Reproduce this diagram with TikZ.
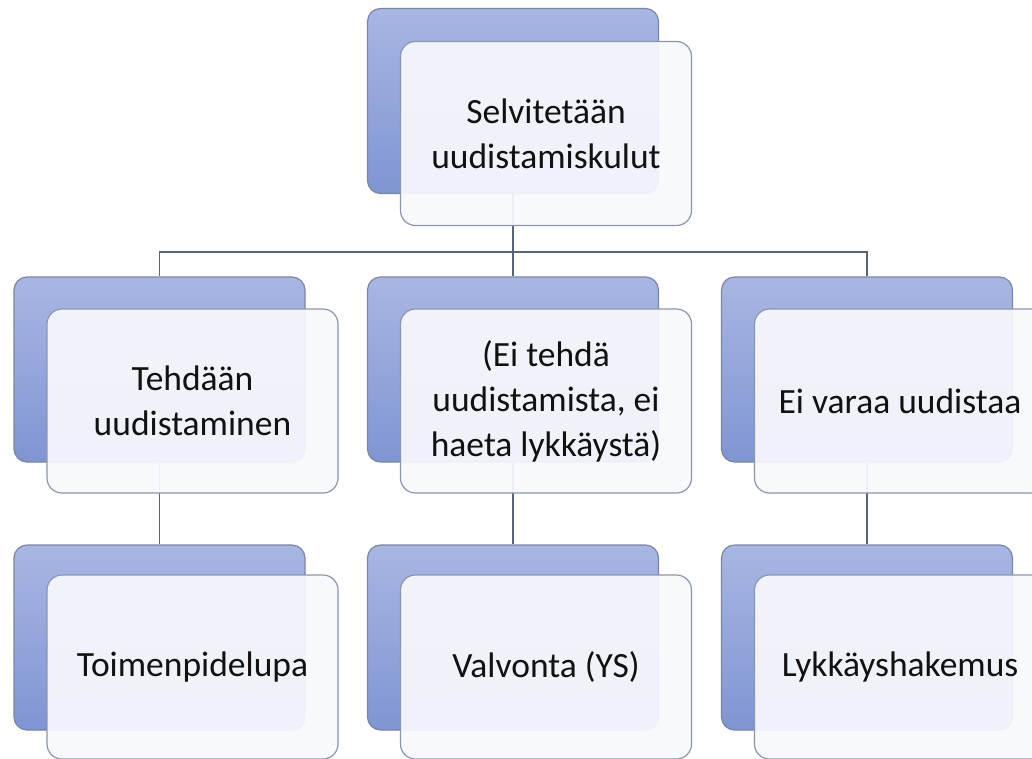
\documentclass[tikz,border=0pt]{standalone}
\usepackage{fontspec}
\setmainfont{Carlito}
\definecolor{backtop}{HTML}{A8B6E2}
\definecolor{backbot}{HTML}{7F95D3}
\definecolor{backline}{HTML}{7A86A6}
\definecolor{frontline}{HTML}{8C96AA}
\definecolor{frontfill}{HTML}{F8F9FD}
\definecolor{connc}{HTML}{56657A}
\definecolor{textc}{HTML}{111111}
\begin{document}
\begin{tikzpicture}[x=1pt,y=-1pt,
  backbox/.style={draw=backline, line width=1.2pt, rounded corners=13pt,
    top color=backtop, bottom color=backbot,
    minimum width=291pt, minimum height=185pt, inner sep=0pt},
  frontbox/.style={draw=frontline, line width=1.2pt, rounded corners=15pt,
    fill=frontfill, fill opacity=0.93, text opacity=1, text=textc,
    minimum width=291pt, minimum height=184pt, inner sep=0pt,
    font=\fontsize{35.5}{45}\selectfont, align=center},
  conn/.style={draw=connc, line width=1.8pt}]
\useasboundingbox (0,0) rectangle (1032,758);
\clip (0,0) rectangle (1032,758);
\fill[white] (0,0) rectangle (1032,758);
% back boxes
\node[backbox] (b0) at (513,101) {};
\node[backbox] (b1) at (159.5,369.5) {};
\node[backbox] (b2) at (513,369.5) {};
\node[backbox] (b3) at (867,369.5) {};
\node[backbox] (c1) at (159.5,637.5) {};
\node[backbox] (c2) at (513,637.5) {};
\node[backbox] (c3) at (867,637.5) {};
% connectors
\coordinate (j) at (513,252);
\draw[conn] (b0.south) -- (j);
\draw[conn] (j) -| (b1.north);
\draw[conn] (j) -- (b2.north);
\draw[conn] (j) -| (b3.north);
\draw[conn] (b1.south) -- (c1.north);
\draw[conn] (b2.south) -- (c2.north);
\draw[conn] (b3.south) -- (c3.north);
% front boxes
\node[frontbox] (f0) at (546,133.5) {Selvitetään\\uudistamiskulut};
\node[frontbox] (f1) at (192.5,401) {Tehdään\\uudistaminen};
\node[frontbox] (f2) at (546,401) {(Ei tehdä\\uudistamista, ei\\haeta lykkäystä)};
\node[frontbox] (f3) at (900,401) {Ei varaa uudistaa};
\node[frontbox] (g1) at (192.5,667) {Toimenpidelupa};
\node[frontbox] (g2) at (546,667) {Valvonta (YS)};
\node[frontbox] (g3) at (900,667) {Lykkäyshakemus};
\end{tikzpicture}
\end{document}
